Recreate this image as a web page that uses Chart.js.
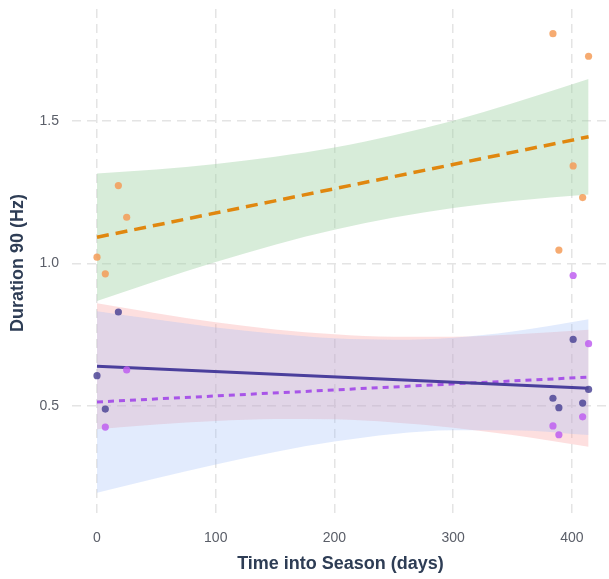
<!DOCTYPE html>
<html>
<head>
<meta charset="utf-8">
<script src="https://cdn.jsdelivr.net/npm/chart.js@4/dist/chart.umd.min.js"></script>
<style>
  html, body { margin: 0; padding: 0; background: #ffffff; }
  #wrap { width: 609px; height: 579px; }
</style>
</head>
<body>
<div id="wrap"><canvas id="c" width="609" height="579"></canvas></div>
<script>
// Axis ticks
const xTicks = [0, 100, 200, 300, 400];
const yTicks = [0.5, 1.0, 1.5];

// Observations per group (days into season, duration)
const orangeX = [0, 7, 18, 25, 384, 389, 401, 409, 414];
const orangeY = [1.022, 0.964, 1.273, 1.162, 1.805, 1.047, 1.342, 1.231, 1.726];

const indigoX = [0, 7, 18, 384, 389, 401, 409, 414];
const indigoY = [0.607, 0.490, 0.830, 0.528, 0.495, 0.734, 0.511, 0.559];

const violetX = [7, 25, 384, 389, 401, 409, 414];
const violetY = [0.427, 0.627, 0.431, 0.400, 0.958, 0.463, 0.719];

// Fitted trend lines (start / end of season)
const fitX = [0, 414];
const orangeFit = [1.092, 1.444];
const indigoFit = [0.640, 0.563];
const violetFit = [0.515, 0.602];

// Confidence bands
const bandX = [0, 50, 100, 150, 200, 250, 300, 350, 414];
const greenUpper = [1.315, 1.329, 1.349, 1.374, 1.406, 1.449, 1.500, 1.561, 1.646];
const greenLower = [0.869, 0.939, 1.005, 1.066, 1.118, 1.161, 1.194, 1.219, 1.242];
const redUpper   = [0.861, 0.826, 0.794, 0.769, 0.752, 0.743, 0.743, 0.751, 0.768];
const redLower   = [0.419, 0.436, 0.448, 0.455, 0.454, 0.443, 0.425, 0.399, 0.358];
const blueUpper  = [0.833, 0.804, 0.776, 0.754, 0.738, 0.733, 0.740, 0.762, 0.805];
const blueLower  = [0.197, 0.248, 0.296, 0.340, 0.376, 0.403, 0.416, 0.416, 0.399];

const pts = (xs, ys) => xs.map((x, i) => ({ x: x, y: ys[i] }));

function band(upper, lower, color, order) {
  return [
    {
      type: 'line', data: pts(bandX, upper), order: order,
      borderWidth: 0, pointRadius: 0, cubicInterpolationMode: 'monotone',
      backgroundColor: color, fill: '+1'
    },
    {
      type: 'line', data: pts(bandX, lower), order: order,
      borderWidth: 0, pointRadius: 0, cubicInterpolationMode: 'monotone',
      fill: false
    }
  ];
}

function trend(ys, color, width, dash, order) {
  return {
    type: 'line', data: pts(fitX, ys), order: order,
    borderColor: color, borderWidth: width, borderDash: dash,
    pointRadius: 0, fill: false, borderCapStyle: 'butt'
  };
}

function dots(xs, ys, color) {
  return {
    type: 'scatter', data: pts(xs, ys), order: 1,
    backgroundColor: color, borderWidth: 0, pointRadius: 3.6
  };
}

// Keep the plotting area fixed: no extra room reserved for edge labels
function noEdgePadding(s) {
  s.paddingLeft = 0; s.paddingRight = 0; s.paddingTop = 0; s.paddingBottom = 0;
}

const tickFont = { family: 'Liberation Sans, Arial, sans-serif', size: 14 };
const titleFont = { family: 'Liberation Sans, Arial, sans-serif', size: 18, weight: 'bold' };
const gridOpts = { color: '#e4e4e4', lineWidth: 1.5, drawTicks: false };
const borderOpts = { display: false, dash: [9, 6] };

new Chart(document.getElementById('c'), {
  type: 'scatter',
  data: {
    datasets: [
      ...band(greenUpper, greenLower, 'rgba(160, 210, 165, 0.42)', 9),
      ...band(redUpper, redLower, 'rgba(250, 150, 150, 0.30)', 8),
      ...band(blueUpper, blueLower, 'rgba(160, 190, 250, 0.30)', 7),
      trend(orangeFit, '#e0870f', 3.5, [12, 7], 3),
      trend(indigoFit, '#4a3f9c', 3.2, [], 3),
      trend(violetFit, '#a855e8', 3, [6, 5], 3),
      dots(orangeX, orangeY, 'rgba(244, 156, 88, 0.85)'),
      dots(indigoX, indigoY, 'rgba(78, 70, 150, 0.85)'),
      dots(violetX, violetY, 'rgba(190, 95, 240, 0.85)')
    ]
  },
  options: {
    responsive: false,
    animation: false,
    devicePixelRatio: 1,
    layout: { autoPadding: false, padding: { top: 9, right: 0, bottom: 0, left: 0 } },
    plugins: { legend: { display: false }, tooltip: { enabled: false } },
    scales: {
      x: {
        type: 'linear',
        min: -21.05, max: 431.2,
        border: borderOpts,
        grid: gridOpts,
        afterBuildTicks: s => { s.ticks = xTicks.map(v => ({ value: v })); },
        afterFit: s => { s.height = 62; noEdgePadding(s); },
        ticks: { font: tickFont, color: '#5a5e68', padding: 13, maxRotation: 0,
                 callback: v => String(v) },
        title: { display: true, text: 'Time into Season (days)', font: titleFont,
                 color: '#2e3d55', padding: { top: 0, bottom: 4 } }
      },
      y: {
        type: 'linear',
        min: 0.1119, max: 1.8916,
        border: borderOpts,
        grid: gridOpts,
        afterBuildTicks: s => { s.ticks = yTicks.map(v => ({ value: v })); },
        afterFit: s => { s.width = 72; noEdgePadding(s); },
        ticks: { font: tickFont, color: '#5a5e68', padding: 13,
                 callback: v => Number(v).toFixed(1) },
        title: { display: true, text: 'Duration 90 (Hz)', font: titleFont,
                 color: '#2e3d55', padding: { top: 7, bottom: 0 } }
      }
    }
  }
});
</script>
</body>
</html>
